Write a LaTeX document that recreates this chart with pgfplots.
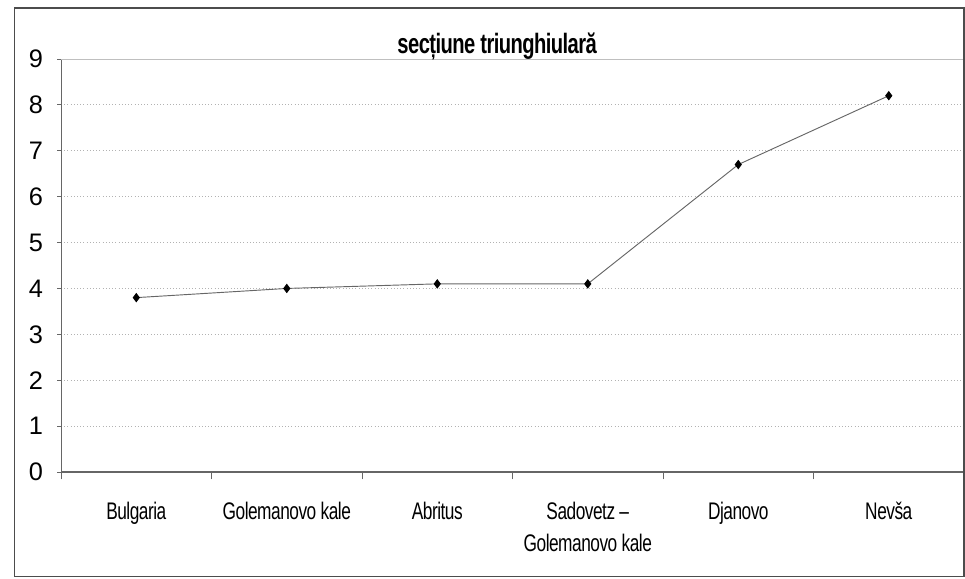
\documentclass[border=0pt]{standalone}
\usepackage{pgfplots}
\pgfplotsset{compat=1.18}
\usepackage{fontspec}
\setmainfont{Liberation Sans}
\newfontfamily\narrow{Liberation Sans}[FakeStretch=0.72, LetterSpace=-2]
\begin{document}
\begin{tikzpicture}
\begin{axis}[
    scale only axis,
    width=677.25pt, height=309.75pt,
    xmin=-0.5, xmax=5.5,
    ymin=0, ymax=9,
    axis x line*=bottom,
    axis y line*=left,
    axis line style={draw=black!60, line width=0.8pt},
    xtick={0,1,2,3,4,5},
    xticklabels={Bulgaria, Golemanovo kale, Abritus, {Sadovetz –\\Golemanovo kale}, Djanovo, Nevša},
    minor xtick={-0.5,0.5,1.5,2.5,3.5,4.5,5.5},
    major x tick style={draw=none},
    minor x tick style={draw=black!60, line width=0.6pt},
    minor tick length=5.5pt,
    ytick={0,1,...,9},
    major tick length=3pt,
    y tick style={draw=black!60, line width=0.6pt},
    tick align=outside,
    ymajorgrids=true,
    grid style={dotted, black!30, line width=0.6pt},
    /pgf/number format/assume math mode=true,
    xticklabel style={font=\narrow\fontsize{18}{24}\selectfont, align=center, yshift=-16pt},
    yticklabel style={font=\fontsize{19}{19}\selectfont, xshift=-7pt},
    clip=false,
]
\addplot[color=black!60, line width=0.7pt, mark=diamond*, mark size=3pt,
    mark options={fill=black, draw=black}]
    coordinates {
    (0,3.8)(1,4.0)(2,4.1)(3,4.1)(4,6.7)(5,8.2)
    };
\draw[black!25, line width=0.6pt] (rel axis cs:0,1) -- (rel axis cs:1,1);
\node[font=\narrow\fontsize{21}{21}\selectfont\bfseries] at (rel axis cs:0.483,1.03) {secțiune triunghiulară};
\draw[black!70, line width=0.8pt] (rel axis cs:-0.052,-0.254) rectangle (rel axis cs:1.0,1.1235);
\path (rel axis cs:-0.0676,-0.259) rectangle (rel axis cs:1.0011,1.1429);
\end{axis}
\end{tikzpicture}
\end{document}
